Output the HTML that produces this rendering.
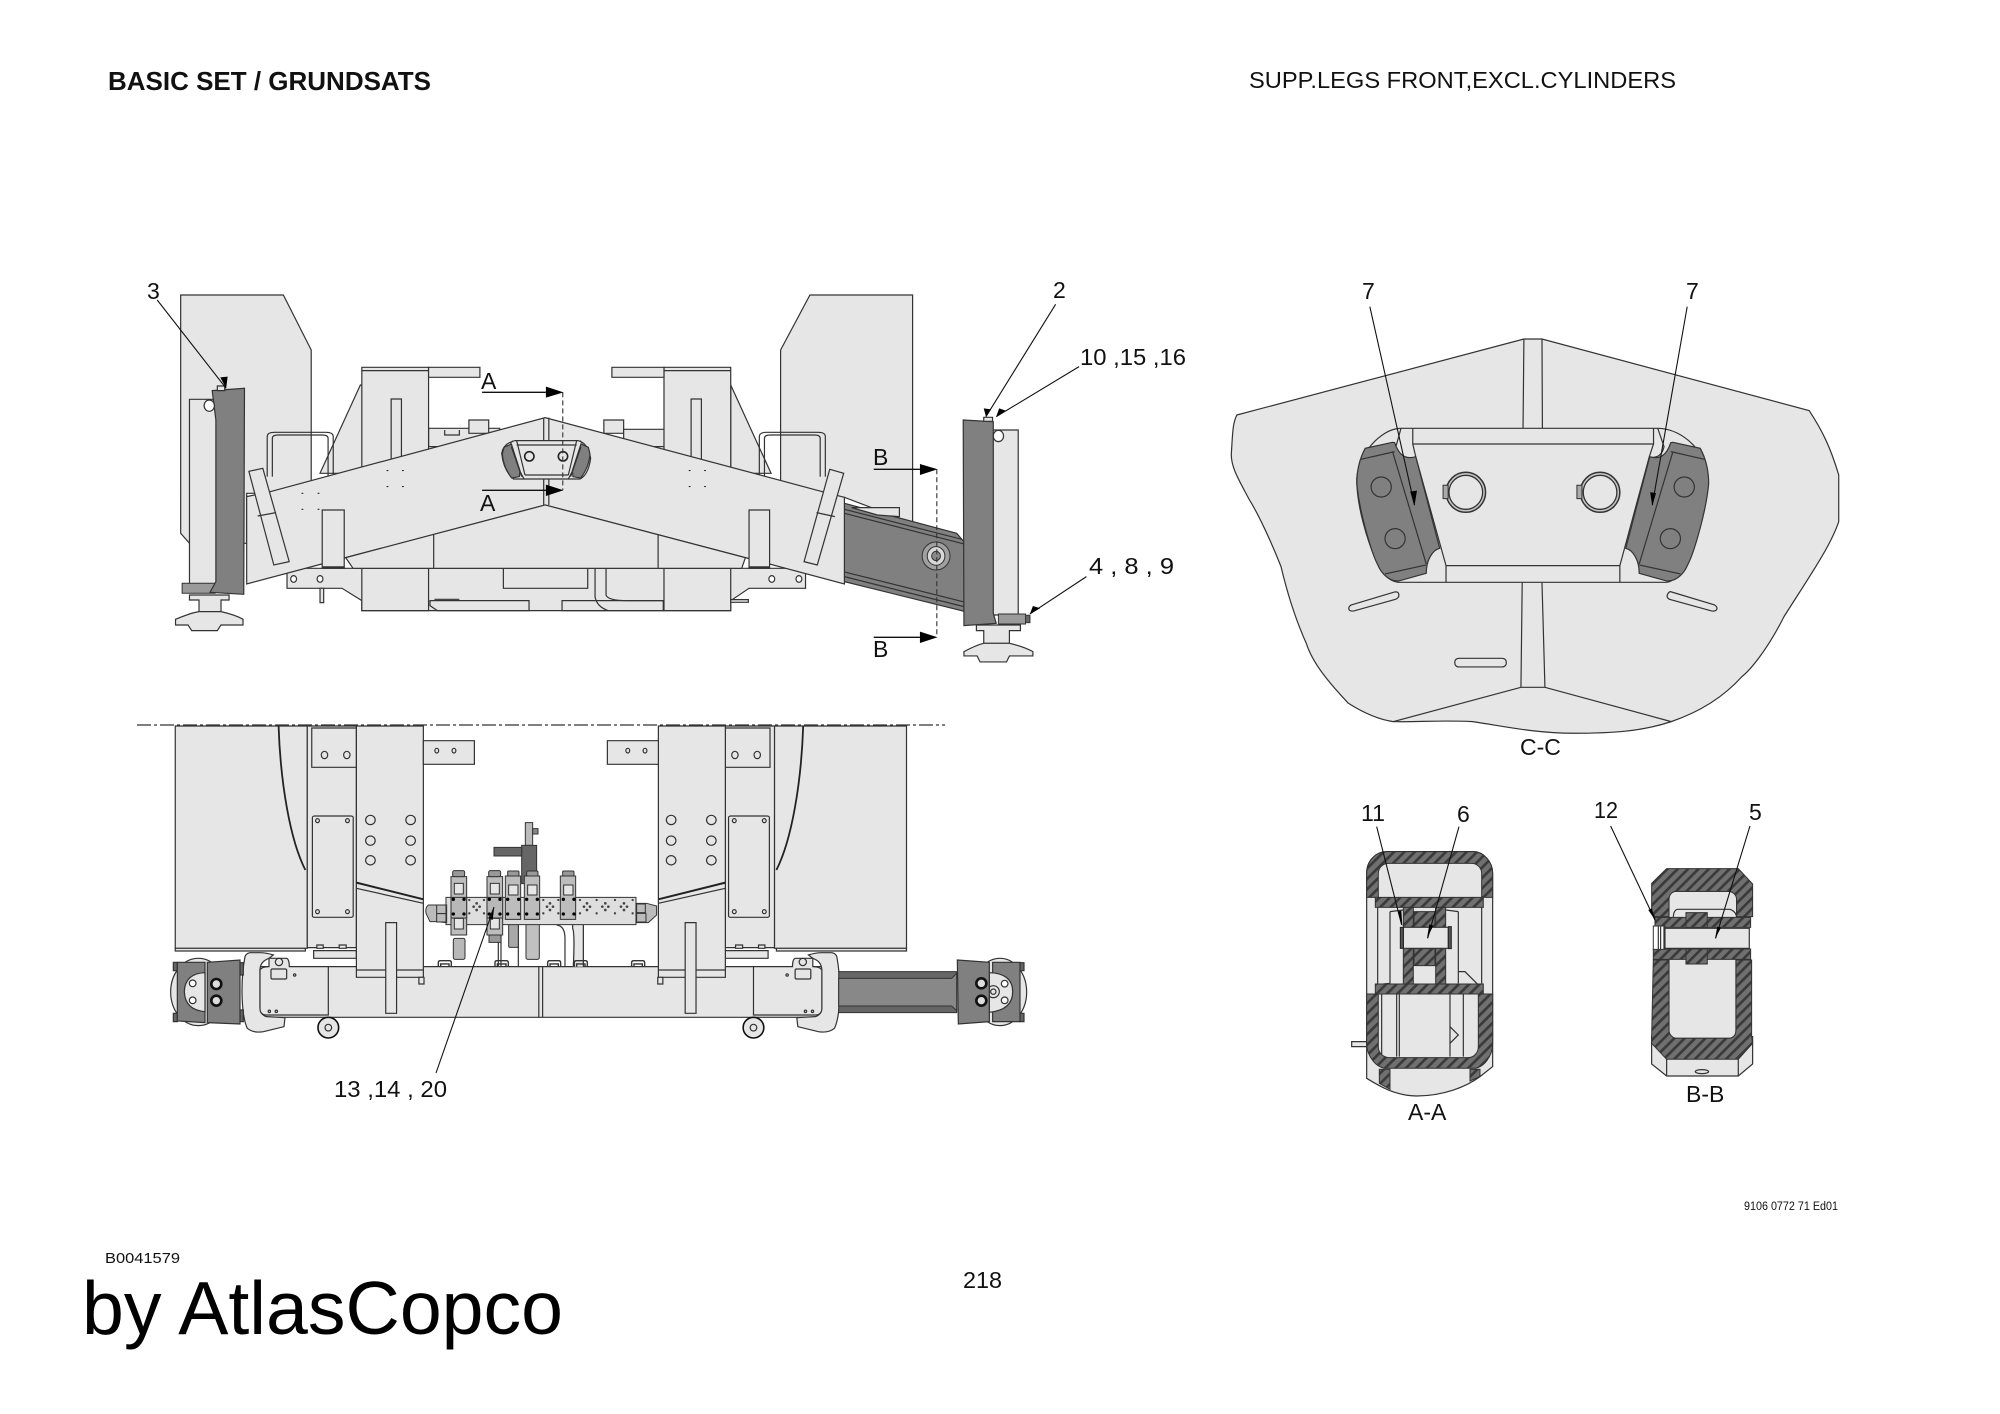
<!DOCTYPE html>
<html><head><meta charset="utf-8"><title>Basic set</title>
<style>
html,body{margin:0;padding:0;background:#fff}
svg{display:block}
svg *{vector-effect:non-scaling-stroke}
.s{fill:#e6e6e6;stroke:#333;stroke-width:1.2}
.n{fill:none;stroke:#333;stroke-width:1.2}
.w{fill:#fff;stroke:#333;stroke-width:1.2}
.d{fill:#808080;stroke:#333;stroke-width:1.2}
.k{fill:#666;stroke:#333;stroke-width:1.2}
.h{fill:url(#hatch);stroke:#333;stroke-width:1}
.l{fill:none;stroke:#111;stroke-width:1.1}
.a{fill:#000;stroke:none}
.b{fill:#000;stroke:none}
text{font-family:"Liberation Sans",sans-serif;fill:#111}
</style></head><body>
<svg xmlns="http://www.w3.org/2000/svg" width="2000" height="1414" viewBox="0 0 2000 1414">
<defs>
<pattern id="hatch" patternUnits="userSpaceOnUse" width="22" height="22" patternTransform="rotate(45)">
<rect width="22" height="22" fill="#707070"/><rect width="8" height="22" fill="#3a3a3a"/>
</pattern>
</defs>
<rect width="2000" height="1414" fill="#fff"/>

<!-- TOP FRONT VIEW -->
<g transform="translate(100,260) scale(0.7334,0.3333)">
<path class="s" d="M110,105H250L288,270V700H200V850H122L110,820Z"/>
<path class="s" d="M1108,105H968L928,270V700L1015,712L1108,790Z"/>
<path class="s" d="M355,375L300,640H360V375Z"/><path class="s" d="M860,375L915,640H860Z"/>
<path class="s" d="M448,505H545V560H448Z"/><path class="s" d="M503,480H530V520H503Z"/><path class="s" d="M687,480H714V520H687Z"/><path class="s" d="M714,508H770V560H714Z"/>
<path class="n" d="M470,510v15h20v-15"/>
<rect class="s" x="357" y="322" width="91" height="300"/><rect class="s" x="769" y="322" width="91" height="300"/>
<rect class="s" x="448" y="322" width="70" height="30"/><rect class="s" x="698" y="322" width="71" height="30"/>
<path class="n" d="M357,332H448M769,332H860"/>
<rect class="s" x="397" y="417" width="14" height="190"/><rect class="s" x="806" y="417" width="14" height="190"/>
<path class="n" d="M228,650V530q0,-13 10,-13H308q10,0 10,13V650M235,650V535q0,-10 8,-10H303q8,0 8,10V650"/>
<path class="n" d="M899,650V530q0,-13 10,-13H979q10,0 10,13V650M906,650V535q0,-10 8,-10H974q8,0 8,10V650"/>
<!-- arm -->
<path class="d" d="M1015,730L1168,820L1180,850V1055L1015,965Z"/>
<path class="n" d="M1015,748L1175,838M1015,760L1178,852M1015,950L1178,1040M1015,936L1178,1026"/>
<path class="s" d="M1025,743H1090V770L1060,765Z"/>
<ellipse cx="1140" cy="888" rx="19" ry="42" fill="#a0a0a0" stroke="#333"/>
<ellipse cx="1140" cy="888" rx="12" ry="28" fill="#d8d8d8" stroke="#333"/>
<ellipse cx="1140" cy="888" rx="6" ry="14" fill="#888" stroke="#333"/>
<!-- lower frame -->
<path class="s" d="M255,925V985H330L357,1022V1052H860V1022L885,985H962V925Z"/>
<rect class="s" x="357" y="925" width="91" height="127"/><rect class="s" x="769" y="925" width="91" height="127"/>
<rect class="s" x="550" y="925" width="115" height="60"/>
<path class="s" d="M450,1022H585V1052H460L450,1037Z"/><path class="s" d="M630,1022H768V1052H630Z"/>
<path class="n" d="M675,925V1010Q677,1040 693,1052M690,925V1005Q692,1022 720,1022H768M456,1018H490"/>
<path class="s" d="M300,985H305V1028H300Z"/><rect class="s" x="860" y="1019" width="24" height="8"/>
<g class="w"><ellipse cx="264" cy="957" rx="4" ry="10"/><ellipse cx="300" cy="957" rx="4" ry="10"/><ellipse cx="916" cy="957" rx="4" ry="10"/><ellipse cx="953" cy="957" rx="4" ry="10"/></g>
<!-- chevron body -->
<path class="s" d="M200,710L232,695L607,473L985,695L1015,712V972L880,893L607,735L335,893L200,972Z"/>
<path class="s" d="M335,893L607,735L880,893L875,925H345Z"/>
<path class="n" d="M455,825V925M761,825V925M605,473V735M612,473V735"/>
<rect class="s" x="303" y="750" width="30" height="175"/><rect class="s" x="885" y="750" width="28" height="175"/>
<path d="M303,922H333M885,922H913" stroke="#333" stroke-width="2" fill="none"/>
<path class="s" d="M203,634L222,625L258,905L237,915Z"/><path class="n" d="M215,768L240,758"/>
<path class="s" d="M995,628L1014,640L978,915L960,905Z"/><path class="n" d="M977,758L1002,770"/>
<!-- dots -->
<g class="b"><circle cx="392" cy="632" r="1.5"/><circle cx="413" cy="632" r="1.5"/><circle cx="392" cy="680" r="1.5"/><circle cx="413" cy="680" r="1.5"/><circle cx="276" cy="700" r="1.5"/><circle cx="298" cy="700" r="1.5"/><circle cx="276" cy="748" r="1.5"/><circle cx="298" cy="748" r="1.5"/><circle cx="804" cy="632" r="1.5"/><circle cx="825" cy="632" r="1.5"/><circle cx="804" cy="680" r="1.5"/><circle cx="825" cy="680" r="1.5"/></g>
<!-- left leg -->
<rect class="s" x="122" y="418" width="40" height="560"/>
<path class="s" d="M122,1005H176V1020H165V1055H135V1020H122Z"/>
<path class="s" d="M103,1078Q125,1058 135,1055H165Q185,1065 195,1078V1095H165L160,1112H125L120,1095H103Z"/>
<rect x="112" y="970" width="45" height="30" fill="#9a9a9a" stroke="#333"/>
<path class="d" d="M153,392L197,385L196,1003L150,997L158,965V480Z"/>
<ellipse cx="149" cy="437" rx="7" ry="17" class="w"/>
<rect class="s" x="160" y="378" width="10" height="14"/>
<!-- right leg -->
<rect class="s" x="1215" y="510" width="37" height="555"/>
<path class="s" d="M1195,1095H1255V1112H1240V1150H1205V1112H1195Z"/>
<path class="s" d="M1178,1175Q1195,1155 1205,1150H1240Q1260,1160 1272,1175V1188H1240L1236,1206H1200L1196,1188H1178Z"/>
<rect x="1225" y="1062" width="37" height="30" fill="#9a9a9a" stroke="#333"/>
<path class="d" d="M1177,480L1218,485V1060L1222,1090L1178,1097Z"/>
<ellipse cx="1225" cy="528" rx="7" ry="17" class="w"/>
<rect class="s" x="1205" y="472" width="12" height="12"/>
<rect x="1262" y="1066" width="6" height="22" fill="#666" stroke="#333"/>
</g>

<!-- centre window of front view (real scale x3) -->
<g transform="translate(460,380) scale(0.3333)">
<path class="s" d="M165,182H355Q385,190 392,235Q385,285 360,297H160Q130,270 125,220Q130,190 165,182Z"/>
<path class="n" d="M170,195H350M195,285H325M170,182L195,285M350,182L325,285M160,182L150,190M360,182L368,190"/>
<path class="d" d="M132,202L154,192L180,272L178,290L155,294Q130,262 127,222Z"/>
<path class="d" d="M385,202L363,192L337,272L339,290L362,294Q387,262 390,222Z"/>
<path class="n" d="M154,200L185,290M363,200L332,290M192,297L178,270M325,297L339,270"/>
<circle cx="208" cy="229" r="14" fill="#e6e6e6" stroke="#222" stroke-width="1.6"/>
<circle cx="309" cy="229" r="14" fill="#e6e6e6" stroke="#222" stroke-width="1.6"/>
</g>

<g transform="translate(100,260) scale(0.7334,0.3333)">
<!-- section lines -->
<path d="M631,397V690M1141,628V1132" stroke="#333" stroke-width="1.1" stroke-dasharray="5 3" fill="none"/>
<path class="l" d="M521,397H608M521,691H608M1055,628H1118M1055,1132H1118" style="stroke-width:1.3"/>
<polygon class="a" points="608,380 632,397 608,413"/><polygon class="a" points="608,674 632,691 608,708"/>
<polygon class="a" points="1118,612 1142,628 1118,645"/><polygon class="a" points="1118,1115 1142,1132 1118,1149"/>
<!-- leaders -->
<path class="l" d="M78,120L172,385M1303,133L1208,470M1335,320L1222,470M1345,950L1268,1062"/>
<polygon class="a" points="172,385 164,352 174,350"/><polygon class="a" points="1208,470 1205,445 1215,448"/><polygon class="a" points="1222,470 1226,445 1235,452"/><polygon class="a" points="1268,1062 1272,1038 1282,1045"/>
</g>

<!-- PLAN VIEW -->
<g transform="translate(100,700) scale(0.6378,0.3333)">
<path d="M58,75H1325" stroke="#333" stroke-width="1.2" stroke-dasharray="14 3 3 3" fill="none"/>
<!-- beam -->
<rect class="s" x="250" y="800" width="883" height="152"/>
<path class="n" d="M688,800V952M694,800V952"/>
<g id="half">
<rect class="s" x="118" y="78" width="207" height="667"/>
<rect class="s" x="118" y="745" width="204" height="8"/>
<rect class="s" x="325" y="78" width="77" height="665"/>
<path d="M280,78C283,250 298,420 322,510" fill="none" stroke="#222" stroke-width="1.8"/>
<rect class="s" x="332" y="84" width="70" height="118"/>
<ellipse class="n" cx="352" cy="165" rx="5" ry="11"/><ellipse class="n" cx="387" cy="165" rx="5" ry="11"/>
<rect class="s" x="333" y="348" width="64" height="304" rx="4"/>
<g class="n"><ellipse cx="341" cy="362" rx="3" ry="6"/><ellipse cx="388" cy="362" rx="3" ry="6"/><ellipse cx="341" cy="635" rx="3" ry="6"/><ellipse cx="388" cy="635" rx="3" ry="6"/></g>
<path class="s" d="M335,752H402V775H335Z"/>
<rect class="s" x="340" y="735" width="10" height="10"/><rect class="s" x="375" y="735" width="11" height="10"/>
<rect class="s" x="402" y="78" width="105" height="754"/>
<path class="n" d="M402,810H507"/><rect class="s" x="500" y="832" width="8" height="20"/>
<g class="n"><ellipse cx="424" cy="360" rx="7.5" ry="14"/><ellipse cx="487" cy="360" rx="7.5" ry="14"/><ellipse cx="424" cy="422" rx="7.5" ry="14"/><ellipse cx="487" cy="422" rx="7.5" ry="14"/><ellipse cx="424" cy="481" rx="7.5" ry="14"/><ellipse cx="487" cy="481" rx="7.5" ry="14"/></g>
<path d="M402,548L507,598" stroke="#222" stroke-width="2" fill="none"/><path class="n" d="M402,565L507,610"/>
<rect class="s" x="448" y="668" width="17" height="272"/>
<rect class="s" x="507" y="122" width="80" height="71"/>
<ellipse class="n" cx="528" cy="152" rx="3" ry="7"/><ellipse class="n" cx="555" cy="152" rx="3" ry="7"/>
</g>
<use href="#half" transform="translate(1382.5,0) scale(-1,1)"/>
</g>

<!-- flange, plate, wheel (left, mirrored for right) -->
<g id="fl" transform="translate(160,950) scale(0.3333)">
<path class="s" d="M255,20C240,100 245,200 262,235Q280,250 310,245L372,230L375,203L320,200Q300,195 300,170V60Q300,35 327,25L340,15Q320,8 300,8H270Q258,10 255,20Z"/>
<path class="s" d="M327,25H380Q388,28 388,50H505V195H320Q300,195 300,175V60Q305,50 327,50Z"/>
<rect class="n" x="333" y="57" width="47" height="30" rx="4"/>
<circle class="n" cx="357" cy="36" r="11"/><circle class="n" cx="404" cy="75" r="3.5"/><circle class="n" cx="328" cy="184" r="3.5"/><circle class="n" cx="349" cy="184" r="3.5"/>
<circle cx="505" cy="233" r="31" fill="#e6e6e6" stroke="#111" stroke-width="1.6"/><circle class="n" cx="505" cy="233" r="10"/>
</g>
<g transform="translate(1081.8,0) scale(-1,1)"><use href="#fl"/></g>

<!-- left end -->
<g transform="translate(160,950) scale(0.3333)">
<ellipse class="s" cx="115" cy="126" rx="83" ry="101"/>
<rect class="k" x="40" y="37" width="12" height="25"/><rect class="k" x="40" y="190" width="12" height="25"/><rect class="k" x="240" y="38" width="10" height="37"/><rect class="k" x="240" y="180" width="10" height="35"/>
<path class="d" d="M52,37H135V218L52,213Z"/>
<path class="s" d="M135,68Q75,70 73,125Q75,180 135,185Z"/>
<circle class="w" cx="98" cy="100" r="10"/><circle class="w" cx="98" cy="151" r="10"/>
<path class="d" d="M142,37L240,30V222L142,218Z"/>
<circle cx="169" cy="102" r="15" fill="#ddd" stroke="#111" stroke-width="2.6"/><circle cx="169" cy="152" r="15" fill="#ddd" stroke="#111" stroke-width="2.6"/>
</g>
<!-- right end -->
<g transform="translate(900,950) scale(0.3333)">
<rect x="-184" y="65" width="354" height="123" fill="#666" stroke="#333"/>
<path d="M-184,85H155L170,70V182L155,168H-184Z" fill="#888" stroke="#333"/>
<ellipse class="s" cx="300" cy="126" rx="80" ry="101"/>
<rect class="k" x="360" y="38" width="12" height="24"/><rect class="k" x="360" y="190" width="12" height="25"/>
<path class="d" d="M278,37H360V215H278Z"/>
<path class="s" d="M268,68Q338,70 338,125Q338,180 268,187Z"/>
<circle class="w" cx="314" cy="101" r="10"/><circle class="w" cx="314" cy="151" r="10"/>
<circle class="n" cx="280" cy="125" r="18"/><circle class="n" cx="280" cy="125" r="8"/>
<path class="d" d="M172,30L268,37V215L175,222Z"/>
<circle cx="244" cy="100" r="15" fill="#ddd" stroke="#111" stroke-width="2.6"/><circle cx="244" cy="152" r="15" fill="#ddd" stroke="#111" stroke-width="2.6"/>
</g>

<!-- VALVE MANIFOLD -->
<g transform="translate(400,820) scale(0.3333)">
<path class="n" d="M295,312V440M303,312V440M355,312V440M470,315Q495,318 495,355V440M550,312V440"/>
<rect class="s" x="518" y="312" width="32" height="128" style="stroke:none"/><path class="n" d="M518,312V325Q525,340 520,440M550,312V440"/>
<g class="n" style="stroke-width:1.4"><path d="M115,440V428q0,-6 6,-6H148q6,0 6,6V440M122,440V432H147V440"/><path d="M285,440V428q0,-6 6,-6H319q6,0 6,6V440M292,440V432H318V440"/><path d="M443,440V428q0,-6 6,-6H476q6,0 6,6V440M450,440V432H475V440"/><path d="M523,440V428q0,-6 6,-6H556q6,0 6,6V440M530,440V432H555V440"/><path d="M695,440V428q0,-6 6,-6H728q6,0 6,6V440M702,440V432H727V440"/></g>
<rect x="160" y="355" width="35" height="63" rx="5" fill="#b8b8b8" stroke="#333"/>
<rect x="378" y="310" width="40" height="108" rx="5" fill="#c0c0c0" stroke="#333"/>
<rect x="326" y="310" width="29" height="72" rx="4" fill="#a8a8a8" stroke="#333"/>
<rect x="267" y="345" width="36" height="22" fill="#999" stroke="#333"/>
<rect x="376" y="8" width="22" height="68" fill="#bbb" stroke="#333"/><rect x="398" y="26" width="16" height="16" fill="#888" stroke="#333"/>
<rect x="365" y="76" width="45" height="115" fill="#666" stroke="#333"/>
<rect x="282" y="82" width="83" height="26" fill="#666" stroke="#333"/>
<rect x="138" y="232" width="570" height="82" fill="#dedede" stroke="#333"/>
<!-- elbows -->
<path d="M140,255H108L85,255Q75,262 78,280L90,305H110L140,308Z" fill="#bbb" stroke="#333"/>
<path d="M708,250H740L770,258V285L745,308H708Z" fill="#bbb" stroke="#333"/>
<g fill="#bbb" stroke="#333"><rect x="110" y="255" width="28" height="26"/><rect x="110" y="281" width="28" height="25"/><rect x="710" y="252" width="26" height="26"/><rect x="710" y="280" width="28" height="26"/></g>
<!-- valves -->
<g id="v1"><rect x="153" y="170" width="47" height="175" fill="#bdbdbd" stroke="#333"/><rect x="158" y="152" width="36" height="18" rx="5" fill="#999" stroke="#333"/><rect x="163" y="190" width="27" height="32" fill="#e6e6e6" stroke="#333"/><rect x="163" y="295" width="27" height="32" fill="#e6e6e6" stroke="#333"/><rect x="153" y="232" width="47" height="62" fill="#b8b8b8" stroke="#333"/></g>
<use href="#v1" x="108"/>
<g id="v2"><rect x="316" y="168" width="46" height="130" fill="#bdbdbd" stroke="#333"/><rect x="323" y="153" width="34" height="15" rx="3" fill="#999" stroke="#333"/><rect x="326" y="195" width="28" height="30" fill="#e6e6e6" stroke="#333"/></g>
<use href="#v2" x="57"/><use href="#v2" x="165"/>
<g class="b">
<circle cx="160" cy="238" r="5"/><circle cx="192" cy="238" r="5"/><circle cx="160" cy="282" r="5"/><circle cx="192" cy="282" r="5"/>
<circle cx="268" cy="238" r="5"/><circle cx="300" cy="238" r="5"/><circle cx="268" cy="282" r="5"/><circle cx="300" cy="282" r="5"/>
<circle cx="323" cy="238" r="5"/><circle cx="356" cy="238" r="5"/><circle cx="323" cy="282" r="5"/><circle cx="356" cy="282" r="5"/>
<circle cx="380" cy="238" r="5"/><circle cx="412" cy="238" r="5"/><circle cx="380" cy="282" r="5"/><circle cx="412" cy="282" r="5"/>
<circle cx="490" cy="238" r="5"/><circle cx="522" cy="238" r="5"/><circle cx="490" cy="282" r="5"/><circle cx="522" cy="282" r="5"/>
</g>
<g fill="#444">
<g id="dm"><circle cx="230" cy="250" r="4"/><circle cx="221" cy="260" r="4"/><circle cx="239" cy="260" r="4"/><circle cx="230" cy="270" r="4"/></g>
<use href="#dm" x="220"/><use href="#dm" x="331"/><use href="#dm" x="386"/><use href="#dm" x="442"/>
<circle cx="208" cy="240" r="3.5"/><circle cx="208" cy="280" r="3.5"/><circle cx="252" cy="240" r="3.5"/><circle cx="252" cy="280" r="3.5"/><circle cx="430" cy="240" r="3.5"/><circle cx="430" cy="280" r="3.5"/><circle cx="475" cy="240" r="3.5"/><circle cx="475" cy="280" r="3.5"/><circle cx="540" cy="240" r="3.5"/><circle cx="540" cy="280" r="3.5"/><circle cx="590" cy="240" r="3.5"/><circle cx="590" cy="280" r="3.5"/><circle cx="645" cy="240" r="3.5"/><circle cx="645" cy="280" r="3.5"/><circle cx="698" cy="240" r="3.5"/><circle cx="698" cy="280" r="3.5"/>
</g>
<polygon class="a" points="283,260 278,300 265,295"/>
</g>
<path class="l" d="M436,1073L494,907"/>

<!-- C-C -->
<g transform="translate(1220,260) scale(0.4209,0.3333)">
<path class="s" d="M40,465L722,237H765L1400,452C1430,510 1450,560 1470,645V785C1450,860 1400,950 1340,1070C1300,1170 1260,1230 1240,1250C1190,1320 1130,1360 1072,1385C1000,1415 930,1420 840,1420C750,1420 680,1400 600,1385C520,1380 470,1387 412,1385C370,1378 330,1350 305,1330C260,1270 220,1210 205,1150C180,1080 160,1000 145,920C120,840 90,760 70,720C45,660 25,620 27,580C30,520 30,490 40,465Z"/>
<path class="n" d="M722,237L720,505M765,237L766,505M718,968L715,1282M765,968L772,1282M412,1385L715,1282H772L1072,1385"/>
<path class="s" d="M430,505H1040C1100,505 1160,580 1160,660C1160,700 1130,800 1105,900C1090,950 1075,967 1060,967H425C400,967 380,930 370,900C350,840 325,740 325,660C325,590 380,505 430,505Z"/>
<path class="n" d="M458,505V552H1030V505M537,967V917H950V967M458,552L465,590L537,917M1030,552L1020,590L950,917"/>
<path class="n" d="M430,505L418,560Q428,590 445,592M1040,505L1055,560Q1050,590 1030,592"/>
<g id="pad">
<path class="d" d="M410,547L345,565C330,600 325,640 325,670C330,750 360,880 375,915C385,945 405,965 425,963L490,940C490,900 505,870 522,865L465,590C440,600 425,585 415,548Z"/>
<path class="n" d="M410,575L490,912M335,598L415,575M392,942L490,915"/>
<ellipse class="n" cx="383" cy="681" rx="24" ry="30"/><ellipse class="n" cx="416" cy="836" rx="24" ry="30"/>
</g>
<use href="#pad" transform="translate(1486,0) scale(-1,1)"/>
<ellipse cx="584" cy="697" rx="47" ry="60" fill="#c4c4c4" stroke="#333" stroke-width="1.5"/><ellipse cx="584" cy="697" rx="40" ry="51" fill="#e6e6e6" stroke="#333" stroke-width="1.3"/>
<ellipse cx="903" cy="697" rx="47" ry="60" fill="#c4c4c4" stroke="#333" stroke-width="1.5"/><ellipse cx="903" cy="697" rx="40" ry="51" fill="#e6e6e6" stroke="#333" stroke-width="1.3"/>
<rect x="530" y="676" width="12" height="40" fill="#aaa" stroke="#333"/><rect x="848" y="676" width="12" height="40" fill="#aaa" stroke="#333"/>
<path class="s" d="M312,1035L415,996Q425,994 425,1006Q425,1014 417,1018L318,1053Q306,1055 306,1045Q306,1039 312,1035Z"/>
<path class="s" d="M1070,995L1175,1035Q1183,1041 1180,1049Q1176,1055 1168,1053L1068,1018Q1060,1013 1063,1004Q1066,996 1070,995Z"/>
<rect class="s" x="558" y="1195" width="122" height="26" rx="10"/>
<path class="l" d="M356,140L462,735M1110,140L1027,735"/>
<polygon class="a" points="462,738 452,695 468,692"/><polygon class="a" points="1027,738 1022,697 1036,699"/>
</g>

<!-- A-A & B-B -->
<g transform="translate(1340,790) scale(0.3333)">
<path class="s" d="M80,250C80,210 110,185 140,185H400C430,185 458,215 458,250V830L420,860C380,890 310,918 230,918C170,918 120,890 80,865Z"/>
<path class="n" d="M113,352V582M425,352V582M150,365V580M355,365V580M150,365L190,360M355,365L318,360M125,612V800M170,612V800M178,612V800M330,612V800M370,612V800"/>
<path class="n" d="M150,580L130,582M355,545H375L412,582M330,710L355,735L330,760"/>
<path class="s" d="M35,755H80V770H35Z"/>
<path class="h" d="M80,322V250C80,210 110,185 140,185H400C430,185 458,215 458,250V322H425V250C425,232 410,220 395,220H145C130,220 115,232 115,250V322Z"/>
<path class="h" d="M80,612V760C80,800 110,835 140,835H400C430,835 458,800 458,760V612H415V770C415,790 400,803 385,803H150C130,803 115,790 115,770V612Z"/>
<rect class="h" x="106" y="322" width="324" height="30"/><rect class="h" x="106" y="582" width="324" height="30"/>
<rect class="h" x="190" y="352" width="30" height="230"/><rect class="h" x="287" y="352" width="30" height="230"/>
<rect class="h" x="222" y="365" width="63" height="47"/><rect class="h" x="222" y="476" width="63" height="51"/>
<rect class="s" x="190" y="412" width="135" height="63"/>
<rect x="181" y="412" width="9" height="63" fill="#555" stroke="#222"/><rect x="325" y="410" width="9" height="66" fill="#555" stroke="#222"/>
<path class="h" d="M118,838H150V898L118,880Z"/><path class="h" d="M390,838H420V860L390,873Z"/>
<path class="l" d="M110,110L185,405M357,110L263,445"/>
<polygon class="a" points="187,408 173,365 184,362"/><polygon class="a" points="261,445 268,403 280,407"/>

<path class="s" d="M935,822V740H1238V822L1195,858H980Z"/>
<rect class="s" x="987" y="304" width="203" height="90"/><rect class="s" x="987" y="505" width="201" height="240"/>
<path class="n" d="M1000,385Q1000,358 1015,358H1170Q1190,365 1190,385"/>
<path class="h" d="M935,280L980,236H1195L1238,282V380H1190V330C1190,312 1175,304 1165,304H1010C995,304 987,315 987,330V380H945L935,370Z"/>
<path class="h" d="M940,510H987V720C987,735 1000,745 1010,745H1165C1180,745 1188,735 1188,720V510H1235V740L1238,760L1195,808H980L935,760V740Z"/>
<rect class="h" x="945" y="382" width="287" height="30"/><rect class="h" x="940" y="477" width="292" height="31"/>
<rect class="h" x="1038" y="368" width="64" height="44"/><rect class="h" x="1038" y="477" width="64" height="45"/>
<rect class="s" x="975" y="415" width="253" height="60"/>
<rect x="940" y="408" width="35" height="70" fill="#fff" stroke="#333"/>
<path class="n" d="M955,408V478M962,408V478M972,408V478"/>
<path class="n" d="M980,808V858M1195,808V858"/><ellipse class="n" cx="1086" cy="845" rx="20" ry="6"/>
<path class="l" d="M812,108L945,390M1230,108L1127,445"/>
<polygon class="a" points="948,394 925,360 935,355"/><polygon class="a" points="1125,447 1132,410 1143,413"/>
</g>

<!-- TEXT -->
<text x="108" y="90" font-size="26" font-weight="bold" textLength="323" lengthAdjust="spacingAndGlyphs">BASIC SET / GRUNDSATS</text>
<text x="1249" y="88" font-size="23.5" textLength="427" lengthAdjust="spacingAndGlyphs">SUPP.LEGS FRONT,EXCL.CYLINDERS</text>
<text x="1744" y="1210" font-size="11.5" textLength="94" lengthAdjust="spacingAndGlyphs" fill="#333">9106 0772 71 Ed01</text>
<text x="105" y="1263" font-size="15" textLength="75" lengthAdjust="spacingAndGlyphs">B0041579</text>
<text x="82" y="1334" font-size="75" textLength="481" lengthAdjust="spacingAndGlyphs" style="fill:#000">by AtlasCopco</text>
<text x="963" y="1288" font-size="23" textLength="39" lengthAdjust="spacingAndGlyphs">218</text>
<g font-size="23">
<text x="147" y="299">3</text><text x="1053" y="298">2</text>
<text x="1080" y="365" textLength="106" lengthAdjust="spacingAndGlyphs">10 ,15 ,16</text>
<text x="1089" y="574" textLength="85" lengthAdjust="spacingAndGlyphs">4 , 8 , 9</text>
<text x="481" y="389">A</text><text x="480" y="511">A</text>
<text x="873" y="465">B</text><text x="873" y="657">B</text>
<text x="334" y="1097" textLength="113" lengthAdjust="spacingAndGlyphs">13 ,14 , 20</text>
<text x="1362" y="299">7</text><text x="1686" y="299">7</text>
<text x="1520" y="755">C-C</text>
<text x="1361" y="821" textLength="24" lengthAdjust="spacingAndGlyphs">11</text><text x="1457" y="822">6</text>
<text x="1594" y="818" textLength="24" lengthAdjust="spacingAndGlyphs">12</text><text x="1749" y="820">5</text>
<text x="1408" y="1120">A-A</text><text x="1686" y="1102">B-B</text>
</g>
</svg>
</body></html>
